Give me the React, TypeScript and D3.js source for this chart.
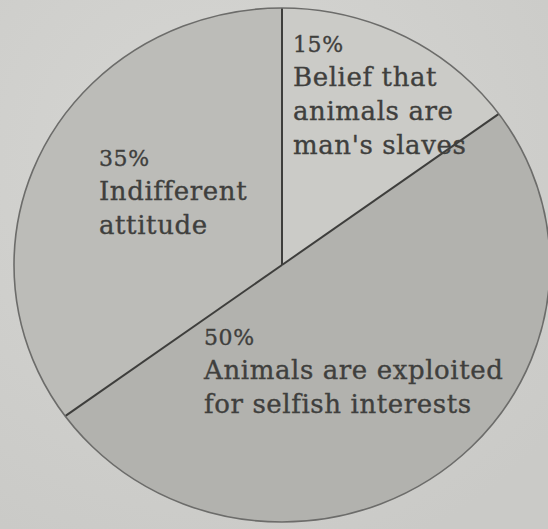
import { useEffect, useRef } from 'react';
import * as d3 from 'd3';

// slice data, clockwise from 12 o'clock
const categories = ['Belief', 'Exploited', 'Indifferent'];
const percents = [15, 50, 35];
const labelLines = [
  ['Belief that', 'animals are', "man's slaves"],
  ['Animals are exploited', 'for selfish interests'],
  ['Indifferent', 'attitude'],
];
const sliceColors = ['#cbcbc7', '#b2b2ae', '#bcbcb8'];

// label anchor (left x, first baseline) relative to centre, in radius units
const labelOffsets: [number, number][] = [
  [0.041, -0.829],
  [-0.291, 0.311],
  [-0.683, -0.387],
];

export default function App() {
  const svgRef = useRef<SVGSVGElement>(null);
  const width = 548;
  const height = 529;

  useEffect(() => {
    if (!svgRef.current) return;
    const svg = d3.select(svgRef.current);
    svg.selectAll('*').remove();

    // photo is slightly squashed, so the pie is an ellipse
    const cx = 282;
    const cy = 265;
    const rx = 268;
    const ry = 257;

    // paper background
    const defs = svg.append('defs');
    const bg = defs.append('radialGradient')
      .attr('id', 'paper')
      .attr('cx', '40%')
      .attr('cy', '30%')
      .attr('r', '80%');
    bg.append('stop').attr('offset', '0%').attr('stop-color', '#d6d6d3');
    bg.append('stop').attr('offset', '100%').attr('stop-color', '#cacac7');

    svg.append('rect')
      .attr('width', width)
      .attr('height', height)
      .attr('fill', 'url(#paper)');

    const data = percents.map((v, i) => ({ name: categories[i], value: v, idx: i }));

    const pie = d3.pie<{ name: string; value: number; idx: number }>()
      .sort(null)
      .value(d => d.value);

    const arc = d3.arc<d3.PieArcDatum<{ name: string; value: number; idx: number }>>()
      .innerRadius(0)
      .outerRadius(rx);

    const g = svg.append('g')
      .attr('transform', `translate(${cx},${cy}) scale(1,${ry / rx})`);

    const arcs = pie(data);

    // slice fills
    g.selectAll('path.slice')
      .data(arcs)
      .enter()
      .append('path')
      .attr('class', 'slice')
      .attr('d', arc)
      .attr('fill', d => sliceColors[d.data.idx])
      .attr('stroke', 'none');

    // radial dividers
    g.selectAll('line.divider')
      .data(arcs)
      .enter()
      .append('line')
      .attr('class', 'divider')
      .attr('x1', 0)
      .attr('y1', 0)
      .attr('x2', d => rx * Math.sin(d.startAngle))
      .attr('y2', d => -rx * Math.cos(d.startAngle))
      .attr('stroke', '#3e3e3c')
      .attr('stroke-width', 2)
      .attr('vector-effect', 'non-scaling-stroke');

    // outline
    g.append('circle')
      .attr('r', rx)
      .attr('fill', 'none')
      .attr('stroke', '#6c6c6a')
      .attr('stroke-width', 1.6)
      .attr('vector-effect', 'non-scaling-stroke');

    // labels
    const lg = svg.append('g').attr('transform', `translate(${cx},${cy})`);
    const lx = (i: number) => labelOffsets[i][0] * rx;
    const ly = (i: number) => labelOffsets[i][1] * ry;

    const labels = lg.selectAll('text.label')
      .data(arcs)
      .enter()
      .append('text')
      .attr('class', 'label')
      .attr('x', d => lx(d.data.idx))
      .attr('y', d => ly(d.data.idx))
      .attr('font-family', '"DejaVu Serif", serif')
      .attr('fill', '#3f3f3d')
      .attr('stroke', '#3f3f3d')
      .attr('stroke-width', 0.35)
      .attr('letter-spacing', 0.6);

    labels.append('tspan')
      .attr('x', d => lx(d.data.idx))
      .attr('font-size', 22)
      .text(d => `${d.data.value}%`);

    labels.each(function (d) {
      const t = d3.select(this);
      labelLines[d.data.idx].forEach(line => {
        t.append('tspan')
          .attr('x', lx(d.data.idx))
          .attr('dy', 34)
          .attr('font-size', 26)
          .text(line);
      });
    });
  }, []);

  return (
    <svg
      ref={svgRef}
      width={width}
      height={height}
      style={{ position: 'absolute', left: 0, top: 0, display: 'block' }}
    />
  );
}
